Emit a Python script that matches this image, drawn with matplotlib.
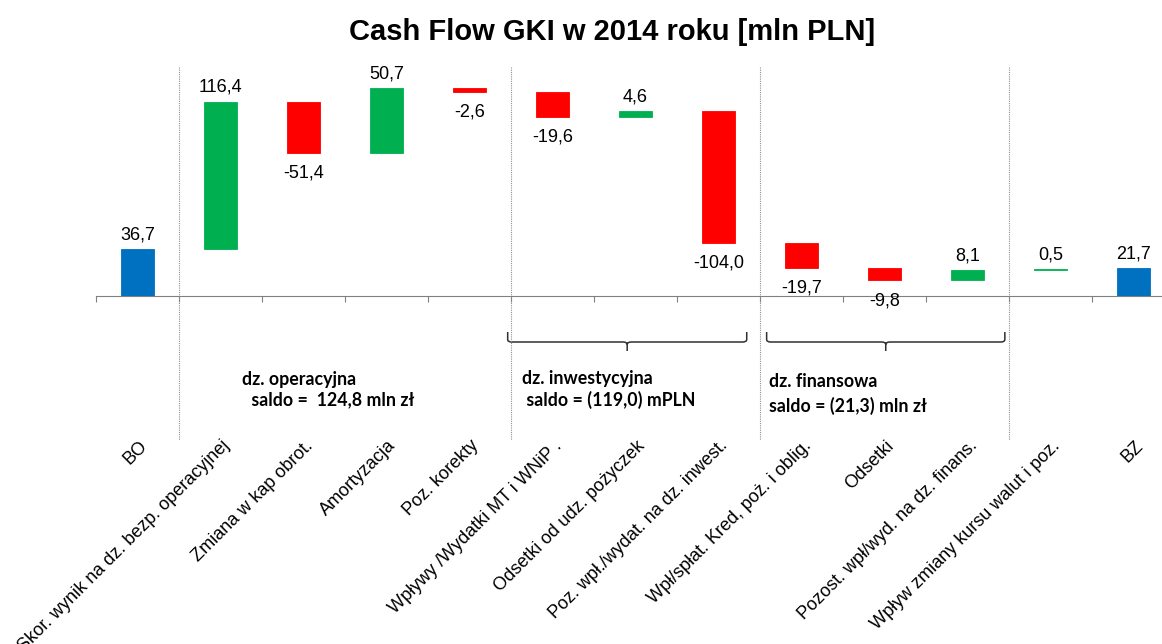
import matplotlib
matplotlib.use("Agg")
import matplotlib.pyplot as plt
import matplotlib.transforms as mtransforms
from matplotlib.lines import Line2D
from matplotlib.path import Path
from matplotlib.patches import PathPatch

plt.rcParams['font.family'] = ['Liberation Sans', 'DejaVu Sans']

# data
categories = ["BO", "Skor. wynik na dz. bezp. operacyjnej", "Zmiana w kap obrot.",
              "Amortyzacja", "Poz. korekty", "Wpływy /Wydatki MT i WNiP .",
              "Odsetki od udz. pożyczek", "Poz. wpł./wydat. na dz. inwest.",
              "Wpł/spłat. Kred, poż. i oblig.", "Odsetki", "Pozost. wpł/wyd. na dz. finans.",
              "Wpływ zmiany kursu walut i poz.", "BZ"]
values = [36.7, 116.4, -51.4, 50.7, -2.6, -19.6, 4.6, -104.0, -19.7, -9.8, 8.1, 0.5, 21.7]
# bar lengths as drawn in the original (the -51,4 bar is drawn shorter)
drawn = [36.7, 116.4, -40.3, 50.7, -2.6, -19.6, 4.6, -104.0, -19.7, -9.8, 8.1, 0.5, 21.7]
kinds = ["total"] + ["step"] * 11 + ["total"]
groups = [
    ("dz. operacyjna", " saldo =  124,8 mln zł"),
    ("dz. inwestycyjna", " saldo = (119,0) mPLN"),
    ("dz. finansowa", "saldo = (21,3) mln zł"),
]

BLUE, GREEN, RED = "#0070C0", "#00B050", "#FF0000"
W, H = 1162, 644

fig = plt.figure(figsize=(W / 100, H / 100), dpi=100)
ax = fig.add_axes([96 / W, (H - 296) / H, 1079 / W, 229 / H])
ax.set_xlim(-0.5, 12.5)
ax.set_ylim(0, 180.3)

# waterfall bars
level = 0.0
for i, (d, k) in enumerate(zip(drawn, kinds)):
    if k == "total":
        low, high, col = 0, d, BLUE
        level = d
    else:
        start = level
        level = level + d
        low, high = min(start, level), max(start, level)
        col = GREEN if d > 0 else RED
    ax.bar(i, high - low, bottom=low, width=0.4, color=col, edgecolor=col, linewidth=0.6)
    txt = f"{values[i]:.1f}".replace(".", ",")
    if values[i] >= 0:
        ax.annotate(txt, (i, high), xytext=(0, 4), textcoords="offset points",
                    ha="center", va="bottom", fontsize=13, clip_on=False)
    else:
        ax.annotate(txt, (i, low), xytext=(0, -8.5), textcoords="offset points",
                    ha="center", va="top", fontsize=13, clip_on=False)

# axis styling
for s in ["top", "right", "left"]:
    ax.spines[s].set_visible(False)
ax.spines["bottom"].set_color("#808080")
ax.set_yticks([])
ax.set_xticks([x - 0.5 for x in range(len(categories) + 1)])
ax.set_xticklabels([])
ax.tick_params(axis="x", which="major", direction="out", length=4, color="#808080")
ax.set_xticks(range(len(categories)), minor=True)
ax.set_xticklabels(categories, minor=True, rotation=45, ha="right", va="center",
                   rotation_mode="anchor", fontsize=13)
ax.tick_params(axis="x", which="minor", length=0, pad=106)
shift = mtransforms.ScaledTranslation(0.07, 0, fig.dpi_scale_trans)
for lab in ax.get_xticklabels(minor=True):
    lab.set_transform(lab.get_transform() + shift)

# dotted separators between sections
trans = mtransforms.blended_transform_factory(ax.transData, ax.transAxes)
for xb in [0.5, 4.5, 7.5, 10.5]:
    ax.add_line(Line2D([xb, xb], [1.0, -0.63], transform=trans, color="#909090",
                       linestyle=(0, (1, 1)), linewidth=0.8, clip_on=False))

# braces under investment and financing sections
def brace(x0, x1, y_top, y_mid, y_tip):
    xm = (x0 + x1) / 2
    r = 0.05
    dy = (y_top - y_mid) * 0.25
    verts = [(x0, y_top), (x0, y_mid + dy), (x0, y_mid), (x0 + r, y_mid),
             (xm - r, y_mid), (xm, y_mid), (xm, y_mid - dy), (xm, y_tip),
             (xm, y_mid - dy), (xm, y_mid), (xm + r, y_mid),
             (x1 - r, y_mid), (x1, y_mid), (x1, y_mid + dy), (x1, y_top)]
    codes = [Path.MOVETO, Path.LINETO, Path.CURVE3, Path.CURVE3,
             Path.LINETO, Path.CURVE3, Path.CURVE3, Path.LINETO,
             Path.MOVETO, Path.CURVE3, Path.CURVE3,
             Path.LINETO, Path.CURVE3, Path.CURVE3, Path.LINETO]
    ax.add_patch(PathPatch(Path(verts, codes), transform=trans, fill=False,
                           edgecolor="#303030", linewidth=1.1, clip_on=False))

y_top = (296 - 332) / 229
y_mid = (296 - 342) / 229
y_tip = (296 - 351) / 229
brace(4.46, 7.34, y_top, y_mid, y_tip)
brace(7.58, 10.45, y_top, y_mid, y_tip)

# section annotations
ann_pos = [(242, 380, 247, 400), (522, 378, 522, 400), (769, 382, 769, 406)]
for (head, saldo), (x1, y1, x2, y2) in zip(groups, ann_pos):
    fig.text(x1 / W, 1 - y1 / H, head, ha="left", va="center", fontsize=12.8,
             fontweight="bold", family=["Lato", "DejaVu Sans"])
    fig.text(x2 / W, 1 - y2 / H, saldo, ha="left", va="center", fontsize=12.8,
             fontweight="bold", family=["Lato", "DejaVu Sans"])

fig.text(612 / W, 1 - 32 / H, "Cash Flow GKI w 2014 roku [mln PLN]", ha="center",
         va="center", fontsize=21, fontweight="bold")

fig.savefig("out.png", dpi=100)
